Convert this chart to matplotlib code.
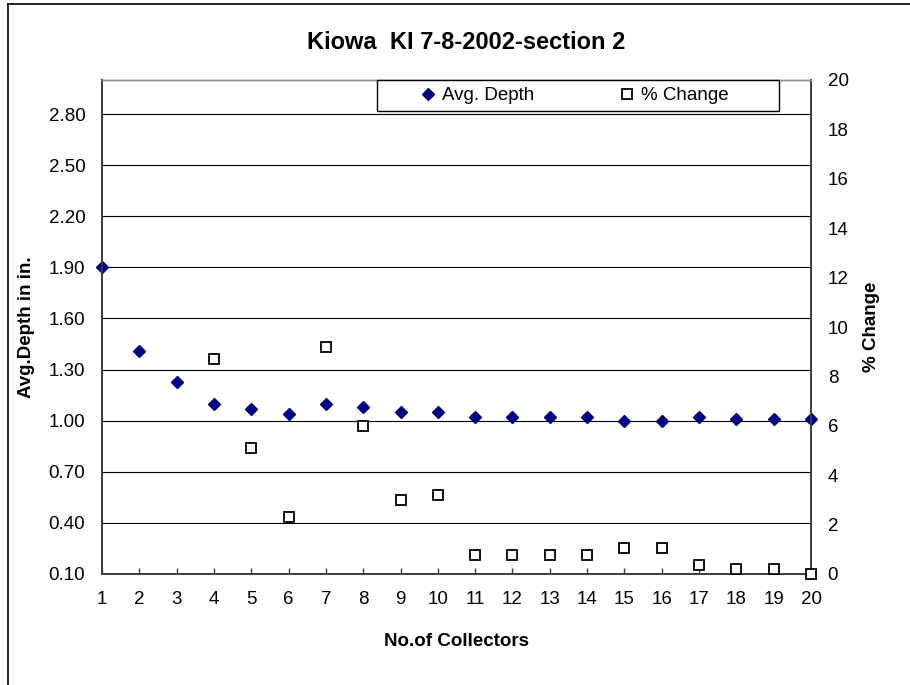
import matplotlib
matplotlib.use("Agg")
from matplotlib import pyplot as plt
from matplotlib.patches import Rectangle
from matplotlib.lines import Line2D

plt.rcParams['font.family'] = ['Liberation Sans', 'DejaVu Sans']

# Data
collectors = list(range(1, 21))
avg_depth = [1.90, 1.41, 1.23, 1.10, 1.07, 1.04, 1.10, 1.08, 1.05, 1.05,
             1.02, 1.02, 1.02, 1.02, 1.00, 1.00, 1.02, 1.01, 1.01, 1.01]
pct_x = list(range(4, 21))
pct_change = [8.7, 5.1, 2.3, 9.2, 6.0, 3.0, 3.2, 0.75, 0.75, 0.75,
              0.75, 1.05, 1.05, 0.35, 0.2, 0.2, 0.0]

left_ticks = [0.10, 0.40, 0.70, 1.00, 1.30, 1.60, 1.90, 2.20, 2.50, 2.80]
right_ticks = list(range(0, 21, 2))

title = "Kiowa  KI 7-8-2002-section 2"

fig = plt.figure(figsize=(9.1, 6.85), dpi=100)
ax = fig.add_axes([102 / 910, 1 - 574 / 685, 709 / 910, 494 / 685])
ax2 = ax.twinx()

# Left axis: average depth
ax.set_xlim(1, 20)
ax.set_ylim(0.10, 3.0)
ax.set_yticks(left_ticks)
ax.set_yticklabels(['%.2f' % v for v in left_ticks])
ax.set_xticks(collectors)
ax.grid(axis='y', color='black', linewidth=0.8)
ax.set_axisbelow(True)
ax.plot(collectors, avg_depth, linestyle='none', marker='D', markersize=6,
        color='#000080', clip_on=False, zorder=5, label='Avg. Depth')

# Right axis: percent change
ax2.set_ylim(0, 20)
ax2.set_yticks(right_ticks)
ax2.plot(pct_x, pct_change, linestyle='none', marker='s', markersize=6.5,
         markerfacecolor='white', markeredgecolor='black', markeredgewidth=1.3,
         clip_on=False, zorder=4, label='% Change')

for a in (ax, ax2):
	for side in ('left', 'bottom', 'right'):
		a.spines[side].set_color('#404040')
		a.spines[side].set_linewidth(1.3)
	a.spines['top'].set_color('#909090')
	a.spines['top'].set_linewidth(1.0)

ax.tick_params(axis='x', direction='in', length=4.5, width=1, color='#404040',
               labelsize=13.5, pad=12)
ax.tick_params(axis='y', length=0, labelsize=13.5, pad=12)
ax2.tick_params(axis='y', length=0, labelsize=13.5, pad=12)

ax.set_xlabel('No.of Collectors', fontsize=13.5, fontweight='bold')
ax.xaxis.set_label_coords(0.5, -0.120)
ax.set_ylabel('Avg.Depth in in.', fontsize=13.5, fontweight='bold')
ax.yaxis.set_label_coords(-0.094, 0.5)
ax2.set_ylabel('% Change', fontsize=13.5, fontweight='bold')
ax2.yaxis.set_label_coords(1.073, 0.5)

# Legend box in the upper right of the plot
ax2.add_patch(Rectangle((0.388, 0.937), 0.567, 0.063, transform=ax2.transAxes,
                        facecolor='white', edgecolor='black', linewidth=1.0,
                        clip_on=False, zorder=10))
handles = [ax.get_lines()[0], ax2.get_lines()[0]]
leg = ax2.legend(handles=handles, loc='center', bbox_to_anchor=(0.667, 0.9685),
                 ncol=2, frameon=False, fontsize=13.5, handlelength=0.7,
                 handletextpad=0.4, columnspacing=4.6, borderaxespad=0)
leg.set_zorder(11)

fig.text(466 / 910, 1 - 48.7 / 685, title, ha='center', va='baseline',
         fontsize=17, fontweight='bold')

# Outer chart frame (left and top edges visible)
fig.add_artist(Line2D([8 / 910, 8 / 910], [-0.05, 1 - 4 / 685], color='black',
                      linewidth=1.2, transform=fig.transFigure))
fig.add_artist(Line2D([8 / 910, 1.05], [1 - 4 / 685, 1 - 4 / 685], color='black',
                      linewidth=1.2, transform=fig.transFigure))

plt.savefig('out.png', dpi=100)
